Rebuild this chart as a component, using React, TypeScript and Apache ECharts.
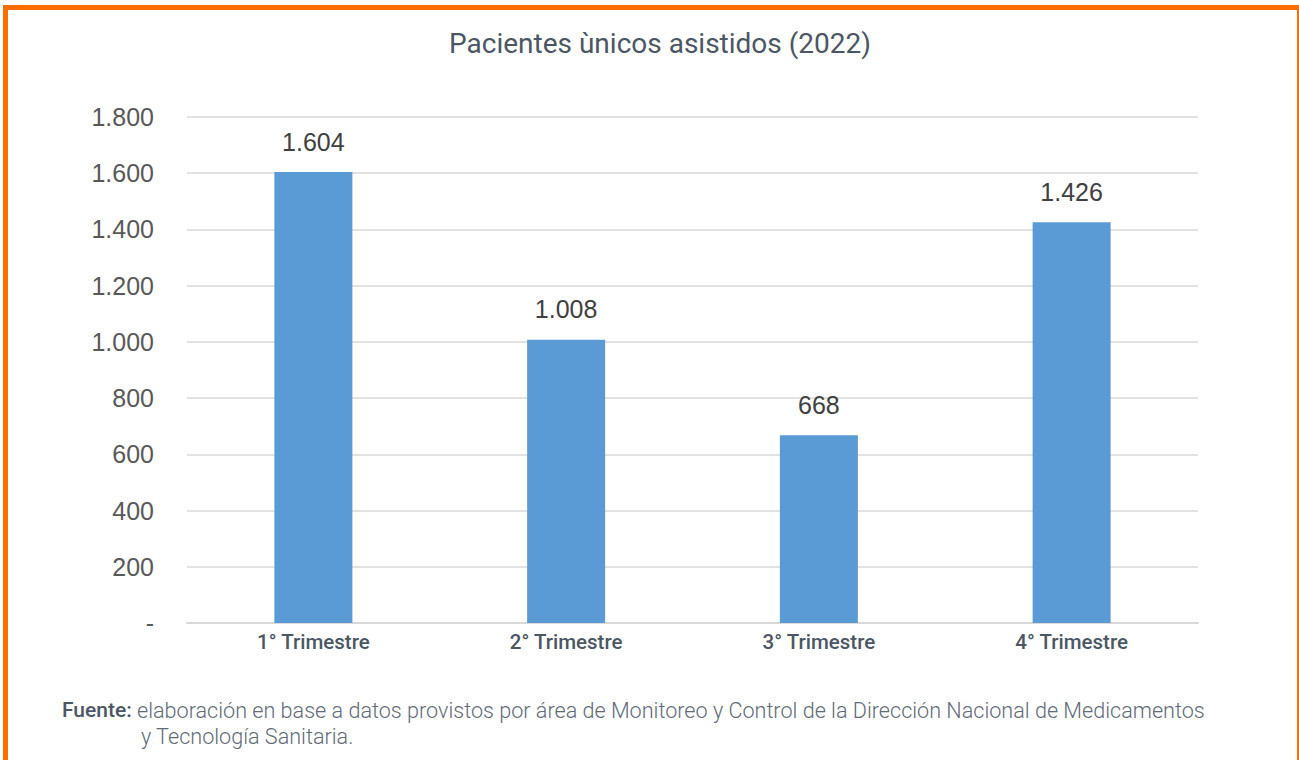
import React, { useEffect, useRef } from "react";
import * as echarts from "echarts";

const categories = ["1° Trimestre", "2° Trimestre", "3° Trimestre", "4° Trimestre"];
const pacientes = [1604, 1008, 668, 1426];
const titleText = "Pacientes ùnicos asistidos (2022)";
const sourceLabel = "Fuente:";
const sourceLine1 = " elaboración en base a datos provistos por área de Monitoreo y Control de la Dirección Nacional de Medicamentos";
const sourceLine2 = "y Tecnología Sanitaria.";

const fmt = (v: number) => {
  if (v === 0) return "-";
  return String(v).replace(/\B(?=(\d{3})+(?!\d))/g, ".");
};

export default function App() {
  const ref = useRef<HTMLDivElement>(null);
  useEffect(() => {
    if (!ref.current) return;
    const chart = echarts.init(ref.current, null, { renderer: "svg" });
    chart.setOption({
      animation: false,
      backgroundColor: "#ffffff",
      title: {
        text: titleText,
        left: 655,
        textAlign: "center",
        top: 24,
        textStyle: { fontFamily: "Roboto", fontSize: 28, fontWeight: "normal", color: "#4b5764" },
      },
      grid: { left: 187, right: 101, top: 117, bottom: 137 },
      xAxis: {
        type: "category",
        data: categories,
        axisLine: { show: true, lineStyle: { color: "#d9d9d9", width: 2 } },
        axisTick: { show: false },
        axisLabel: { fontFamily: "Roboto", fontSize: 20.5, fontWeight: 500, color: "#4b5764", margin: 8 },
      },
      yAxis: {
        type: "value",
        min: 0,
        max: 1800,
        interval: 200,
        axisLine: { show: false },
        axisTick: { show: false },
        splitLine: { lineStyle: { color: "#d9d9d9", width: 1.5 } },
        axisLabel: {
          fontFamily: "Liberation Sans",
          fontSize: 25,
          color: "#595959",
          margin: 33,
          formatter: (v: number) => fmt(v),
        },
      },
      series: [
        {
          type: "bar",
          data: pacientes,
          barWidth: 78,
          itemStyle: { color: "#5b9bd5" },
          label: {
            show: true,
            position: "top",
            distance: 18,
            fontFamily: "Liberation Sans",
            fontSize: 25,
            color: "#404040",
            formatter: (p: any) => fmt(p.value),
          },
        },
      ],
      graphic: [
        { type: "rect", shape: { x: 3, y: 5, width: 1295, height: 5 }, style: { fill: "#ff6d00" } },
        { type: "rect", shape: { x: 3, y: 5, width: 5, height: 760 }, style: { fill: "#ff6d00" } },
        { type: "rect", shape: { x: 1297, y: 5, width: 2, height: 760 }, style: { fill: "#ff6d00" } },
        {
          type: "text",
          left: 62,
          top: 699,
          style: {
            text: "{b|" + sourceLabel + "}{n|" + sourceLine1 + "}",
            rich: {
              b: { fontFamily: "Roboto", fontSize: 21, fontWeight: 500, fill: "#4b5764" },
              n: { fontFamily: "Roboto", fontSize: 21.6, fontWeight: 300, fill: "#5f6b78" },
            },
          },
        },
        {
          type: "text",
          left: 141,
          top: 725,
          style: { text: sourceLine2, fontFamily: "Roboto", fontSize: 21.6, fontWeight: 300, fill: "#5f6b78" },
        },
      ],
    });
    return () => chart.dispose();
  }, []);
  return (
    <div
      ref={ref}
      style={{ position: "fixed", left: 0, top: 0, width: 1299, height: 760, background: "#fff" }}
    />
  );
}
